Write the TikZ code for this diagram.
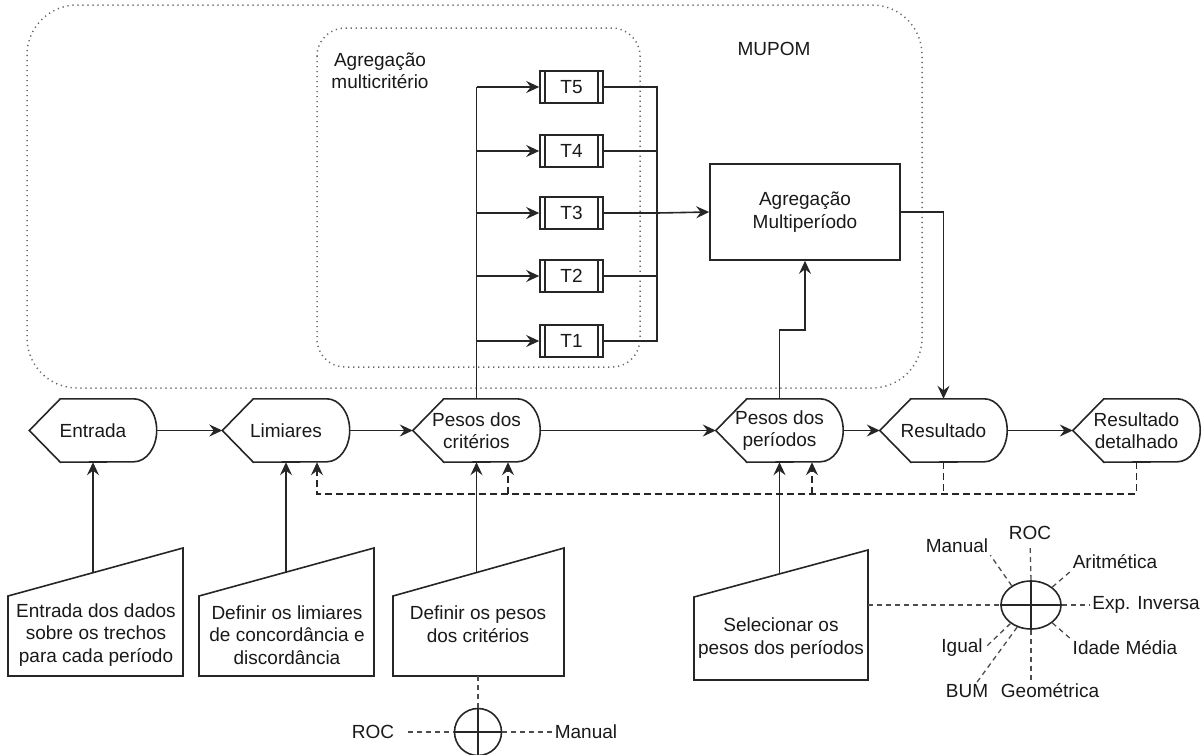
\documentclass[tikz,border=0pt]{standalone}
\usepackage{fontspec}
\setmainfont{Liberation Sans}
\usepackage{tikz}
\usetikzlibrary{arrows.meta,shapes.geometric}
\tikzstyle{line}=[draw=black!85, line width=1.6pt]
\tikzstyle{arrow}=[line, -{Stealth[length=13pt,width=12pt,inset=4.5pt]}]
\tikzstyle{fback}=[line, dash pattern=on 7pt off 4pt]
\tikzstyle{fbarrow}=[arrow, dash pattern=on 7pt off 4pt]
\tikzstyle{opt}=[draw=black!70, line width=1.3pt, dash pattern=on 5pt off 4pt]
\tikzstyle{group}=[draw=black!60, line width=1.5pt, dash pattern=on 1.2pt off 3.8pt]
\tikzstyle{disp}=[minimum width=127pt, minimum height=63pt, inner sep=0pt, align=center]
\tikzstyle{tbox}=[line, minimum width=63pt, minimum height=32pt, inner sep=0pt]
\tikzstyle{lbl}=[inner sep=2pt]

% display shape: name, position, text
\newcommand{\dispbox}[3]{%
  \node[disp] (#1) at (#2) {#3};
  \draw[line] (#1.west) -- ([xshift=31pt]#1.north west) -- ([xshift=-23pt]#1.north east)
    arc[start angle=90, end angle=-90, x radius=23pt, y radius=31.5pt]
    -- ([xshift=31pt]#1.south west) -- cycle;
}

\begin{document}
\begin{tikzpicture}[x=1pt, y=-1pt, font=\fontsize{19pt}{22.5pt}\selectfont, text=black!90]
\useasboundingbox (0,0) rectangle (1203,755);

% groups
\draw[group, rounded corners=50pt] (27,5) rectangle (922,388);
\draw[group, rounded corners=28pt] (317,28) rectangle (640,367);
\node (mupom) at (774,49) {MUPOM};
\node[align=center] (multi) at (380,71) {Agregação\\multicritério};

% main row
\dispbox{entrada}{93,430.5}{Entrada}
\dispbox{lim}{286,430.5}{Limiares}
\dispbox{pcrit}{476.5,430.5}{Pesos dos\\critérios}
\dispbox{pper}{779.5,430.5}{Pesos dos\\períodos}
\dispbox{res}{943.5,430.5}{Resultado}
\dispbox{resdet}{1136.5,430.5}{Resultado\\detalhado}

\draw[arrow] (entrada.east) -- (lim.west);
\draw[arrow] (lim.east) -- (pcrit.west);
\draw[arrow] (pcrit.east) -- (pper.west);
\draw[arrow] (pper.east) -- (res.west);
\draw[arrow] (res.east) -- (resdet.west);

% periods
\node[line, minimum width=190pt, minimum height=96pt, align=center] (agreg) at (805,212) {Agregação\\Multiperíodo};
\coordinate (col) at (657,213);
\draw[line] (pcrit.north) -- (pcrit.north |- 0,87);
\foreach \i/\y in {1/341,2/276,3/213,4/151,5/87} {
  \node[tbox] (t\i) at (571.5,\y) {T\i};
  \draw[line] ([xshift=6pt]t\i.north west) -- ([xshift=6pt]t\i.south west);
  \draw[line] ([xshift=-6pt]t\i.north east) -- ([xshift=-6pt]t\i.south east);
  \draw[arrow] (pcrit.north |- t\i) -- (t\i.west);
  \draw[line] (t\i.east) -| (col);
}
\draw[arrow] (col) -- (agreg.west);
\draw[arrow] (pper.north) -- ++(0,-69) -| (agreg.south);
\draw[arrow] (agreg.east) -| (res.north);

% feedback
\coordinate (bus) at (0,494);
\draw[fbarrow] (resdet.south) -- (resdet.south |- bus) -| ([xshift=31pt]lim.south);
\draw[fback] (res.south) -- (res.south |- bus);
\draw[fbarrow] ([xshift=31.5pt]pcrit.south |- bus) -- ([xshift=31.5pt]pcrit.south);
\draw[fbarrow] ([xshift=32.5pt]pper.south |- bus) -- ([xshift=32.5pt]pper.south);

% manual inputs
\foreach \a/\b/\t/\s/\u in {8/183/596/548/676, 199/374/596/548/676, 393/564/596/548/676, 694/868/597/550/680}
  \draw[line] (\a,\t) -- (\b,\s) -- (\b,\u) -- (\a,\u) -- cycle;
\node[align=center] (inDados) at (96,635) {Entrada dos dados\\sobre os trechos\\para cada período};
\node[align=center] (inLim) at (287,635) {Definir os limiares\\de concordância e\\discordância};
\node[align=center] (inPesos) at (478,624) {Definir os pesos\\dos critérios};
\node[align=center] (inPer) at (781,638) {Selecionar os\\pesos dos períodos};
\coordinate (cDados) at (93,573);
\coordinate (cLim) at (286,572);
\coordinate (cPesos) at (476.5,573);
\coordinate (cPer) at (779.5,574);
\draw[arrow] (cDados) -- (entrada.south);
\draw[arrow] (cLim) -- (lim.south);
\draw[arrow] (cPesos) -- (pcrit.south);
\draw[arrow] (cPer) -- (pper.south);

% options for criteria weights
\node[line, circle, minimum size=47pt, inner sep=0pt] (orA) at (478,732) {};
\draw[line] (orA.north) -- (orA.south);
\draw[line] (orA.west) -- (orA.east);
\node[lbl] (rocA) at (373,732) {ROC};
\node[lbl] (manA) at (586,732) {Manual};
\coordinate (cPesosB) at (478,676);
\draw[opt] (cPesosB) -- (orA.north);
\draw[opt, shorten <=12pt] (rocA) -- (orA.west);
\draw[opt] (orA.east) -- (manA);

% options for period weights
\node[line, ellipse, minimum width=60pt, minimum height=48pt, inner sep=0pt] (orB) at (1031,605) {};
\draw[line] (orB.north) -- (orB.south);
\draw[line] (orB.west) -- (orB.east);
\node[lbl] (rocB) at (1030,533) {ROC};
\node[lbl] (manB) at (957,546) {Manual};
\node[lbl] (aritB) at (1115,562) {Aritmética};
\node[lbl] (expB) at (1146,605) {Exp. Inversa};
\node[lbl] (idadeB) at (1125,648) {Idade Média};
\node[lbl] (igualB) at (962,648) {Igual};
\node[lbl] (bumB) at (967,691) {BUM};
\node[lbl] (geoB) at (1050,691) {Geométrica};
\coordinate (cPerR) at (868,605);
\draw[opt] (cPerR) -- (orB.west);
\draw[opt, shorten >=5pt] (orB.north) -- (rocB.south);
\draw[opt] (orB.135) -- (manB.south east);
\draw[opt] (orB.40) -- (aritB.south west);
\draw[opt] (orB.east) -- (expB.west);
\draw[opt] (orB.-40) -- (idadeB.north west);
\draw[opt] (orB.222) -- (igualB.east);
\draw[opt] (orB.238) -- ([xshift=10pt]bumB.north);
\draw[opt] (orB.south) -- (orB.south |- geoB.north);
\end{tikzpicture}
\end{document}
